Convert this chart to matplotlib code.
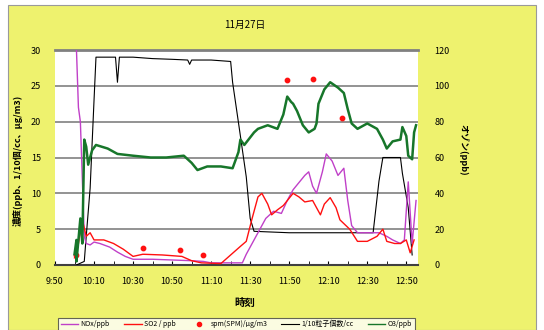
import matplotlib
matplotlib.use("Agg")
import matplotlib.pyplot as plt
from matplotlib.patches import Rectangle
from matplotlib.lines import Line2D

plt.rcParams['font.family'] = ['Noto Sans CJK JP', 'DejaVu Sans']

title = "11月27日"
tick_labels = ["9:50", "10:10", "10:30", "10:50", "11:10", "11:30", "11:50", "12:10", "12:30", "12:50"]

nox_t = ["10:00", "10:01", "10:02", "10:03", "10:04", "10:05", "10:06", "10:08", "10:10", "10:13", "10:18",
         "10:22", "10:26", "10:30", "10:40", "10:50", "11:00", "11:06", "11:10", "11:20", "11:26", "11:28",
         "11:31", "11:35", "11:38", "11:42", "11:46", "11:49", "11:52", "11:55", "11:58", "12:00", "12:02",
         "12:04", "12:07", "12:09", "12:12", "12:15", "12:18", "12:20", "12:22", "12:25", "12:30", "12:36",
         "12:40", "12:43", "12:47", "12:49", "12:51", "12:53", "12:55"]
nox_v = [35, 30, 22, 20, 12, 4, 3, 2.8, 3.2, 3, 2.5,
         1.8, 1.2, 0.8, 0.8, 0.7, 0.6, 0.5, 0.3, 0.3, 0.3, 1.5,
         3, 5, 6.5, 7.5, 7.2, 9, 10.5, 11.5, 12.5, 13, 11,
         10, 13, 15.5, 14.5, 12.5, 13.5, 9, 5.5, 4.5, 4.5, 4.5,
         4, 3.5, 3, 3.5, 11.6, 3, 9]

so2_t = ["10:00", "10:02", "10:04", "10:06", "10:08", "10:10", "10:15", "10:20", "10:25", "10:30", "10:35",
         "10:45", "10:55", "11:00", "11:05", "11:15", "11:25", "11:28", "11:31", "11:34", "11:36", "11:39",
         "11:41", "11:44", "11:47", "11:52", "11:55", "11:58", "12:02", "12:06", "12:08", "12:11", "12:14",
         "12:16", "12:21", "12:25", "12:30", "12:35", "12:38", "12:40", "12:44", "12:47", "12:50", "12:52",
         "12:54"]
so2_v = [1.0, 3, 6.3, 4, 4.5, 3.5, 3.5, 3, 2.2, 1.2, 1.5,
         1.4, 1.2, 0.6, 0.3, 0.2, 2.6, 3.3, 6.5, 9.5, 10, 8.5,
         7, 7.7, 8.3, 10, 9.5, 8.8, 9, 7, 8.5, 9.4, 8,
         6.3, 5, 3.3, 3.3, 4, 5, 3.3, 3, 3, 3.5, 1.7,
         3.5]

spm_t = ["10:01", "10:35", "10:54", "11:06", "11:49", "12:02", "12:17"]
spm_v = [1.4, 2.4, 2.1, 1.4, 25.8, 26.0, 20.5]

cnt_t = ["10:01", "10:05", "10:06", "10:08", "10:10", "10:11", "10:16", "10:21", "10:22", "10:23", "10:30",
         "10:40", "10:50", "10:58", "10:59", "11:00", "11:10", "11:20", "11:21", "11:25", "11:28", "11:30",
         "11:32", "11:50", "12:10", "12:33", "12:36", "12:38", "12:47", "12:48", "12:51", "12:53"]
cnt_v = [0, 0.5, 4, 10.7, 23, 29, 29, 29, 25.5, 29, 29,
         28.8, 28.7, 28.6, 28, 28.6, 28.6, 28.4, 25.5, 18, 12.3, 6.5,
         4.7, 4.5, 4.5, 4.5, 11.7, 15, 15, 12.8, 8, 1.4]

o3_t = ["10:00", "10:01", "10:01", "10:03", "10:04", "10:05", "10:06", "10:07", "10:09", "10:11", "10:17",
        "10:22", "10:30", "10:39", "10:47", "10:56", "11:00", "11:03", "11:08", "11:15", "11:21", "11:24",
        "11:25", "11:27", "11:32", "11:34", "11:39", "11:44", "11:47", "11:49", "11:51", "11:52", "11:54",
        "11:57", "12:00", "12:03", "12:04", "12:05", "12:08", "12:11", "12:15", "12:18", "12:20", "12:22",
        "12:25", "12:30", "12:35", "12:38", "12:40", "12:43", "12:47", "12:48", "12:50", "12:51", "12:53",
        "12:54", "12:55"]
o3_v = [6, 14, 2, 26, 12, 70, 66, 56, 64, 67, 65,
        62, 61, 60, 60, 61, 57, 53, 55, 55, 54, 63,
        70, 67, 74, 76, 78, 76, 84, 94, 91, 90, 86,
        78, 74, 76, 79, 90, 98, 102, 99, 96, 87, 79,
        76, 79, 76, 70, 65, 69, 70, 77, 72, 61, 59,
        74, 78]


def minutes(ts):
    out = []
    for s in ts:
        h, m = s.split(":")
        out.append((int(h) - 9) * 60 + int(m) - 50)
    return out


fig = plt.figure(figsize=(5.44, 3.30), dpi=100)
fig.patch.set_facecolor("white")
fig.patches.append(Rectangle((8 / 544, 0), 528 / 544, 325 / 330, transform=fig.transFigure,
                             facecolor="#EEF26E", edgecolor="#9a9a9a", linewidth=0.8, zorder=-10))

ax = fig.add_axes([55 / 544, 65 / 330, 363 / 544, 215 / 330])
ax.set_zorder(2)
ax.set_facecolor("white")
ax.set_xlim(0, 186)
ax.set_ylim(0, 30)
ax.set_yticks(range(0, 31, 5))
for v in range(5, 30, 5):
    ax.axhline(v, color="#808080", lw=1.2, zorder=1)
ax.set_xticks(minutes(["9:50", "10:10", "10:30", "10:50", "11:10", "11:30", "11:50", "12:10", "12:30", "12:50"]))
ax.set_xticklabels(tick_labels)
ax.set_xticks(range(0, 187, 10), minor=True)
for side in ["left", "right"]:
    ax.spines[side].set_visible(False)
ax.spines["top"].set_color("#808080")
ax.spines["top"].set_linewidth(2)
ax.spines["bottom"].set_color("#404040")
ax.spines["bottom"].set_linewidth(1.5)
ax.tick_params(axis="y", length=0, labelsize=6.5, pad=10)
ax.tick_params(axis="x", which="both", length=3, direction="in", labelsize=6.5, pad=9)

ax.plot(minutes(cnt_t), cnt_v, color="black", lw=0.8, zorder=3)
ax.plot(minutes(nox_t), nox_v, color="#C040C8", lw=1.0, zorder=4)
ax.plot(minutes(so2_t), so2_v, color="#FF1010", lw=1.0, zorder=5)
ax.scatter(minutes(spm_t), spm_v, color="#FF1010", s=10, zorder=6, clip_on=False)

ax2 = ax.twinx()
ax2.set_zorder(3)
ax2.patch.set_visible(False)
ax2.set_ylim(0, 120)
ax2.set_yticks(range(0, 121, 20))
for side in ["left", "right", "top", "bottom"]:
    ax2.spines[side].set_visible(False)
ax2.tick_params(axis="y", length=0, labelsize=6.5, pad=12)
ax2.plot(minutes(o3_t), o3_v, color="#17762A", lw=1.8, zorder=4)

fig.text(245 / 544, 1 - 25 / 330, title, ha="center", va="center", fontsize=7)
fig.text(18 / 544, 1 - 160 / 330, "濃度(ppb、1/10個/cc、μg/m3)", rotation=90,
         ha="center", va="center", fontsize=6.5, fontweight="bold")
fig.text(463 / 544, 1 - 150 / 330, "オゾン(ppb)", rotation=270,
         ha="center", va="center", fontsize=6.5, fontweight="bold")
fig.text(245 / 544, 1 - 303 / 330, "時刻", ha="center", va="center", fontsize=7.5, fontweight="bold")

handles = [
    Line2D([], [], color="#C040C8", lw=1.0),
    Line2D([], [], color="#FF1010", lw=1.0),
    Line2D([], [], color="#FF1010", lw=0, marker="o", markersize=3),
    Line2D([], [], color="black", lw=0.8),
    Line2D([], [], color="#17762A", lw=1.0),
]
labels = ["NOx/ppb", "SO2 / ppb", "spm(SPM)/μg/m3", "1/10粒子個数/cc", "O3/ppb"]
leg = fig.legend(handles, labels, loc="lower left", bbox_to_anchor=(55 / 544, -4 / 330, 363 / 544, 16 / 330),
                 ncol=5, mode="expand", fontsize=5, frameon=True, fancybox=False,
                 handlelength=2.5, handletextpad=0.4, columnspacing=0.8, borderpad=0.3)
leg.get_frame().set_edgecolor("#404040")
leg.get_frame().set_linewidth(0.8)
leg.get_frame().set_facecolor("white")

fig.savefig("out.png", dpi=100, facecolor=fig.get_facecolor())
